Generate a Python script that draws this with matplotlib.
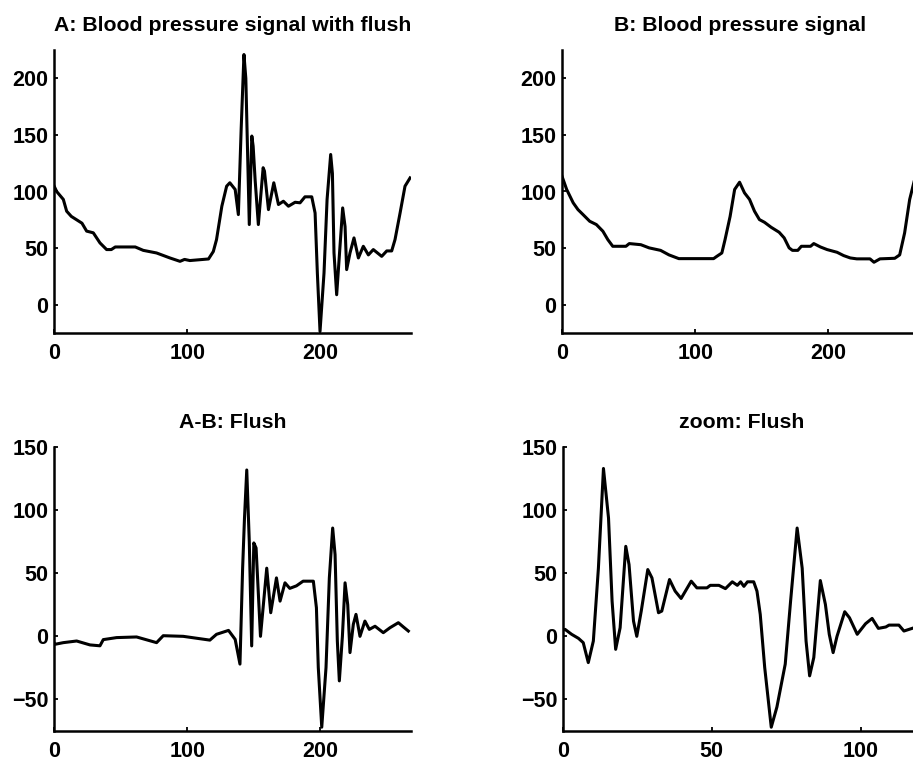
import matplotlib.pyplot as plt

# =====================================================
# DATA
# =====================================================

# A: blood pressure signal with flush
a_x = [0, 2, 7, 9.5, 13, 21, 24.5, 29.5, 34.5, 39.5, 43, 46, 61, 67, 77, 87,
       94.6, 98, 102, 116, 119.6, 122, 126, 129.6, 132, 136, 138.4, 140.5,
       142.6, 144, 146.6, 148.5, 149.5, 151, 153.4, 157, 158, 161, 165, 168.5,
       172.2, 176, 181, 184.7, 188.4, 193.5, 196, 197.7, 199.7, 202.7, 205,
       207.7, 209, 210.2, 212.2, 214.7, 216.7, 218.5, 219.7, 222.2, 225.2,
       228.5, 232.2, 236, 239.7, 246, 249.8, 253.5, 256, 259.8, 263.5, 267.3]
a_y = [105, 100, 93, 82.6, 78, 72, 65, 63.5, 54.6, 48.7, 48.7, 51, 51, 48,
       45.7, 41.3, 38.3, 40, 39, 40.4, 47, 57.5, 87, 104.7, 107.7, 101.8, 79.6,
       155, 221, 200, 70.8, 149, 140, 110, 70.8, 121, 118, 84, 107.7, 88.5,
       91.4, 87, 90.5, 90, 95.3, 95.3, 81, 28, -23.6, 28, 93, 132.7, 116, 45.7,
       8.8, 51.6, 85.5, 69, 31, 45.7, 59, 41.3, 51.6, 44, 48.7, 42.7, 47.5,
       47.5, 57.5, 81, 104.7, 112]

# B: blood pressure signal
b_x = [0, 3.5, 8.4, 12, 15.8, 20.8, 25.8, 30.7, 34.4, 38.1, 48, 50.5, 59.2,
       65.4, 74, 80.3, 87.7, 113.8, 116.2, 120, 122.4, 126.2, 129.6, 133.3,
       137, 140.8, 144.5, 148.2, 152, 157, 163, 166.8, 170.5, 173, 177, 179.7,
       186.6, 189, 194, 199, 206.5, 211.4, 216.4, 221.3, 231.2, 234.2, 238.7,
       249.8, 253.5, 257.2, 261, 265]
b_y = [113.5, 101.8, 90, 84, 79.6, 73.7, 70.8, 64.9, 57.5, 51.6, 51.6, 54, 53,
       50.2, 48, 44, 40.7, 40.7, 42.7, 45.7, 57.5, 78, 101.8, 108.2, 98.8, 93,
       82.6, 75.2, 72.8, 68.4, 64, 59, 50.2, 48, 48, 51.6, 51.6, 54, 51, 48.7,
       46.3, 43.4, 41.3, 40.5, 40.5, 37.5, 40.5, 41, 44, 63.4, 93, 112]

# A-B: flush
c_x = [0, 0.8, 7, 17, 27, 34.5, 37, 47, 62, 77, 82, 97, 117, 122, 131, 136,
       139.6, 141.6, 143, 144.7, 146.6, 148.4, 150, 151.7, 155, 159.7, 162.7,
       167, 169.7, 173.4, 177, 182, 187, 194.7, 197, 198.4, 201, 204.2, 206.7,
       209.2, 211, 212.7, 214.2, 216.5, 218.5, 220.5, 222.2, 224.7, 226.7,
       229.7, 233.4, 236.7, 241, 247.2, 252.2, 258.5, 262.2, 266]
c_y = [-5, -6.3, -5, -3.7, -6.8, -7.5, -2.6, -1, -0.5, -5, 0.5, 0, -3, 1.6,
       4.7, -2.4, -22, 54, 93.7, 131.8, 75, -7.6, 74, 70, 0, 54, 18.7, 46.3,
       27.9, 42.4, 38, 40, 43.7, 43.7, 22.6, -24.7, -72, -24.7, 46.3, 85.8,
       64.7, -3.7, -35.3, 0, 42.4, 25, -12.9, 9.5, 17.4, 0, 12.1, 5.5, 8, 2.9,
       6.8, 10.8, 7.5, 4.2]

# zoom: flush
d_x = [0, 0.7, 2.9, 5.2, 6.8, 8.5, 10.2, 11.9, 13.6, 15.3, 16.5, 17.7, 19.2,
       21.1, 22.2, 23.7, 24.8, 26.3, 28.5, 29.9, 32.1, 33.2, 35.8, 37.7, 39.7,
       43.1, 45, 48.4, 49.5, 52.4, 54.6, 56.9, 58.6, 59.7, 60.8, 62, 64.1,
       65.2, 66.3, 67.8, 70, 71.9, 74.7, 76.5, 78.7, 80.4, 81.7, 82.9, 84.3,
       86.5, 88.2, 89.5, 90.8, 92.1, 94.7, 96.3, 98.9, 101.7, 103.9, 106,
       108.5, 109.6, 112.9, 114.6, 116.3, 118, 122]
d_y = [5, 5.5, 1.6, -1.6, -5, -20.8, -3.7, 54, 133, 93.7, 27.9, -10.3, 6.8,
       71.3, 56.8, 12.1, 0, 20, 52.9, 46.3, 18.7, 20, 45, 35.8, 30, 43.7, 38.4,
       38.4, 40.4, 40.4, 37.8, 43.2, 40.4, 43.2, 39.6, 43.2, 43.2, 35.8, 17.4,
       -24.7, -72, -56, -22, 27.9, 85.8, 54, -3.7, -31.3, -16.8, 44.2, 25.3,
       1.6, -12.9, 0, 19.5, 14.7, 1.6, 10, 14.2, 6.3, 7.4, 8.9, 8.9, 4.2, 5.5,
       6.8, 6.8]

titles = ["A: Blood pressure signal with flush", "B: Blood pressure signal",
          "A-B: Flush", "zoom: Flush"]

# =====================================================
# PLOT
# =====================================================

plt.rcParams['font.family'] = ['Liberation Sans', 'DejaVu Sans']
plt.rcParams['font.weight'] = 'bold'

fig = plt.figure(figsize=(9.13, 7.61), dpi=100)

W = 357 / 913
boxes = [
    [54 / 913, 428 / 761, W, 283 / 761],
    [562 / 913, 428 / 761, W, 283 / 761],
    [54 / 913, 30 / 761, W, 284 / 761],
    [563 / 913, 30 / 761, W, 284 / 761],
]
series = [(a_x, a_y), (b_x, b_y), (c_x, c_y), (d_x, d_y)]
xlims = [(0, 268), (0, 268), (0, 268), (0, 120)]
ylims = [(-25, 225), (-25, 225), (-75, 150), (-75, 150)]
yticks = [[0, 50, 100, 150, 200], [0, 50, 100, 150, 200],
          [-50, 0, 50, 100, 150], [-50, 0, 50, 100, 150]]
xticks = [[0, 100, 200], [0, 100, 200], [0, 100, 200], [0, 50, 100]]

for i in range(4):
    ax = fig.add_axes(boxes[i])
    x, y = series[i]
    ax.plot(x, y, color='black', linewidth=2.2)
    ax.set_xlim(*xlims[i])
    ax.set_ylim(*ylims[i])
    ax.set_xticks(xticks[i])
    ax.set_yticks(yticks[i])
    ax.set_yticklabels([str(v).replace('-', '\u2212') for v in yticks[i]])
    ax.spines['top'].set_visible(False)
    ax.spines['right'].set_visible(False)
    for s in ['left', 'bottom']:
        ax.spines[s].set_linewidth(1.8)
    ax.tick_params(direction='in', length=3, width=1.3, labelsize=15.5)
    ax.tick_params(axis='x', pad=7)
    ax.tick_params(axis='y', pad=4)
    ax.set_title(titles[i], fontsize=15.3, fontweight='bold', pad=14)

fig.savefig("out.png", dpi=100)
